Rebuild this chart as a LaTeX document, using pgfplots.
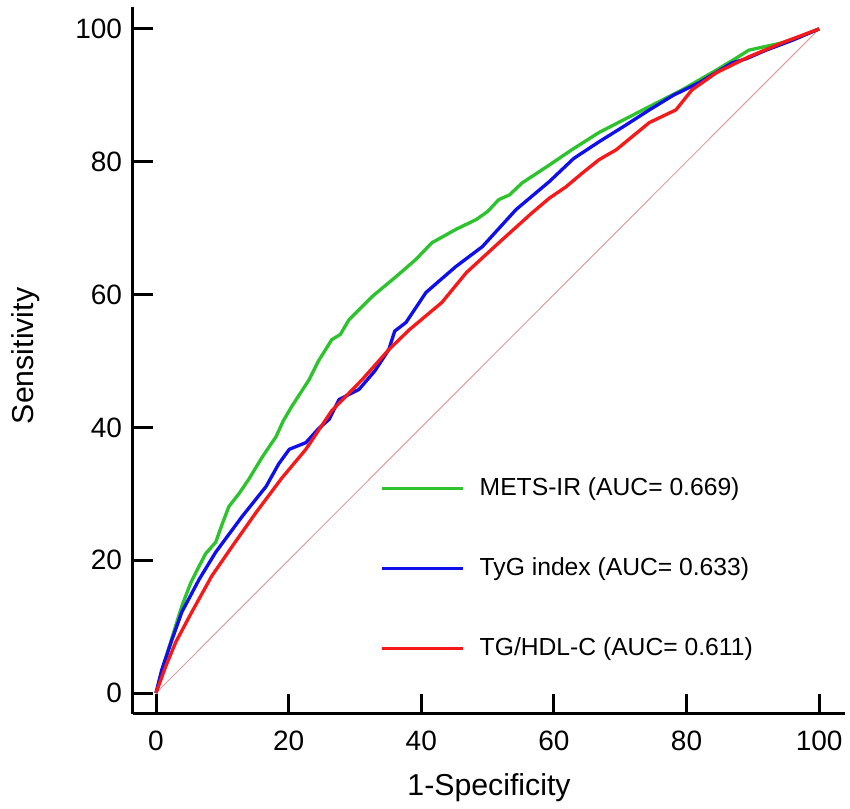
\documentclass[border=0pt]{standalone}
\usepackage{pgfplots}
\pgfplotsset{compat=1.18}
\usepackage{fontspec}
\setmainfont{Liberation Sans}
\definecolor{cgreen}{RGB}{45,195,45}
\definecolor{cblue}{RGB}{15,15,235}
\definecolor{cred}{RGB}{245,25,25}
\definecolor{cdiag}{RGB}{215,160,160}
\begin{document}
\begin{tikzpicture}
\begin{axis}[
  scale only axis,
  width=534pt, height=530.25pt,
  xmin=-3.47, xmax=103.9, ymin=-3.16, ymax=103.3,
  axis lines*=left,
  axis line style={line width=2.25pt, black},
  tick align=inside,
  major tick length=15pt,
  every tick/.style={line width=2.25pt, black},
  xtick={0,20,40,60,80,100},
  ytick={0,20,40,60,80,100},
  /pgf/number format/assume math mode=true,
  tick label style={font=\fontsize{21}{25}\selectfont},
  xticklabel style={anchor=north, inner sep=0pt, yshift=-12.75pt},
  yticklabel style={anchor=east, inner sep=0pt, xshift=-8pt},
  xlabel={1-Specificity},
  ylabel={Sensitivity},
  label style={font=\fontsize{22.7}{27}\selectfont},
  xlabel style={at={(axis description cs:0.5,0)}, anchor=north, inner sep=0pt, yshift=-44.25pt},
  ylabel style={at={(axis description cs:0,0.5)}, anchor=south, inner sep=0pt, yshift=69.75pt, xshift=3.4pt},
  legend style={at={(axis cs:33.8,18.7)}, anchor=west, draw=none, fill=none,
    inner sep=0pt, row sep=42pt, column sep=11pt,
    font=\fontsize{18.5}{22}\selectfont,
    nodes={inner sep=0pt, text height=14pt, text depth=4pt}},
  legend cell align=left,
  legend image code/.code={\draw[#1] (0pt,0pt) -- (61pt,0pt);},
  clip=false,
]
\addplot[cdiag, line width=0.75pt, forget plot] coordinates {(0,0) (100,100)};
\addplot[cgreen, line width=2.5pt, line join=round] coordinates {
(0,0) (0.8,3.0) (2,7) (3.9,13.1) (5.2,16.5) (6.5,19.1) (7.5,21) (9,22.7) (10,25.5) (11,28.1) (12.5,30) (14,32.2) (16,35.5) (18.1,38.6) (19.2,41) (20.5,43.2) (23.1,47.2) (24.5,50) (26.5,53.2) (27.8,54) (29.1,56.2) (32.6,59.7) (36.2,62.7) (39.2,65.3) (41.6,67.8) (45.2,69.8) (48.3,71.3) (50,72.5) (51.7,74.3) (53.3,75) (55.2,76.8) (59.3,79.5) (62.7,81.8) (66.8,84.4) (70.5,86.3) (74.4,88.3) (79.3,90.8) (84.5,93.8) (87,95.3) (89.4,96.8) (94.4,97.9) (97,98.8) (100,100)};
\addlegendentry{METS-IR (AUC= 0.669)}
\addplot[cblue, line width=2.5pt, line join=round] coordinates {
(0,0) (0.9,3.6) (2.4,8) (3.9,12.2) (6.5,17.1) (9,21.2) (13,26.6) (16.6,31.1) (18.5,34.5) (20.1,36.7) (22.6,37.7) (24.5,39.8) (26.1,41.2) (27.6,44.2) (30.6,45.7) (33,48.5) (35.1,51.7) (36,54.5) (37.7,55.8) (39.5,58.5) (40.7,60.3) (43,62.3) (45.2,64.2) (49.2,67.2) (54.3,72.8) (59.3,77) (63,80.5) (66.8,83) (70.5,85.3) (74.4,87.8) (78,90) (81.9,91.9) (86.9,94.9) (89,95.5) (92,96.8) (96,98.3) (100,100)};
\addlegendentry{TyG index (AUC= 0.633)}
\addplot[cred, line width=2.5pt, line join=round] coordinates {
(0,0) (1.5,4.1) (3,7.7) (5.4,12.2) (8.4,17.6) (11.5,22.1) (15.1,27.2) (19,32.4) (22.6,36.7) (26.5,42.5) (31.1,47.2) (35.1,51.7) (38.2,54.7) (43.1,58.8) (46.8,63.3) (51.7,67.8) (56.7,72.3) (59.3,74.5) (61.8,76.2) (64.3,78.3) (66.8,80.3) (69.4,81.8) (74.4,85.9) (78.4,87.8) (80.8,90.8) (84.5,93.4) (89.4,95.8) (94.4,97.9) (100,100)};
\addlegendentry{TG/HDL-C (AUC= 0.611)}
\end{axis}
\pgfresetboundingbox
\path ([shift={(-99.75pt,-71.25pt)}]current axis.south west) rectangle ([shift={(537.75pt,535.5pt)}]current axis.south west);
\end{tikzpicture}
\end{document}
